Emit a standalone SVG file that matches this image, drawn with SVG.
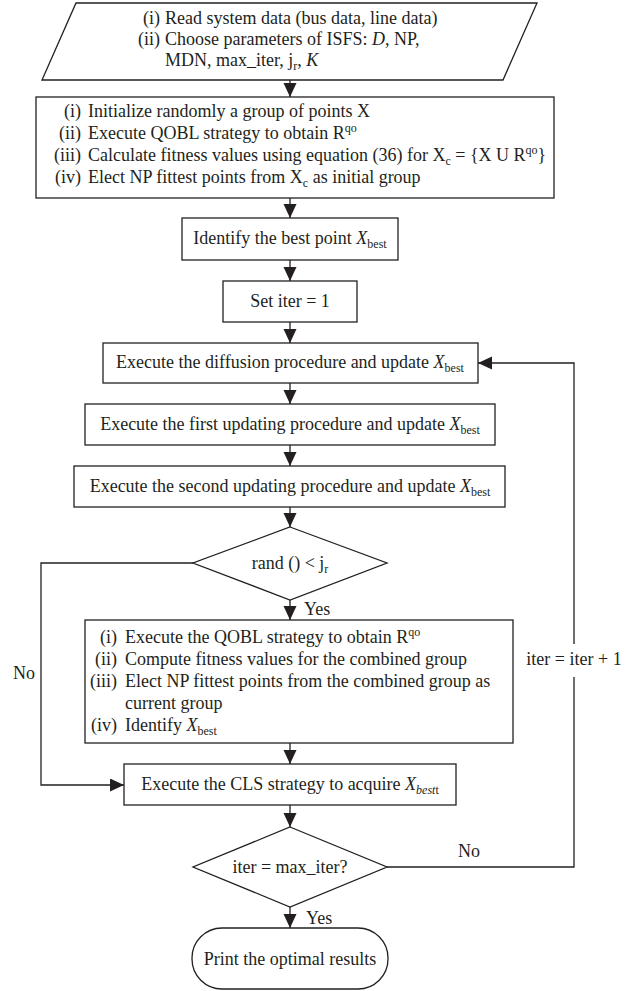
<svg xmlns="http://www.w3.org/2000/svg" width="639" height="991" viewBox="0 0 639 991">
<style>
.t{font-family:"Liberation Serif","Times New Roman",serif;font-size:18px;fill:#231f20}
.m{text-anchor:middle}
.e{text-anchor:end}
.s{font-size:12px}
.i{font-style:italic}
.b{fill:#fff;stroke:#231f20;stroke-width:1.3}
.c{fill:none;stroke:#231f20;stroke-width:1.3}
</style>
<defs>
<marker id="ah" markerUnits="userSpaceOnUse" markerWidth="15" markerHeight="14" refX="14" refY="6.5" orient="auto" viewBox="0 0 15 14">
<path d="M0,0 L14,6.5 L0,13 z" fill="#231f20"/>
</marker>
</defs>
<rect width="639" height="991" fill="#fff"/>
<g id="connectors">
<path class="c" d="M290,80 V97" marker-end="url(#ah)"/>
<path class="c" d="M290,198 V218" marker-end="url(#ah)"/>
<path class="c" d="M290,260 V281" marker-end="url(#ah)"/>
<path class="c" d="M290,322 V343" marker-end="url(#ah)"/>
<path class="c" d="M290,383 V404" marker-end="url(#ah)"/>
<path class="c" d="M290,445 V466" marker-end="url(#ah)"/>
<path class="c" d="M290,507 V527" marker-end="url(#ah)"/>
<path class="c" d="M290,600 V620" marker-end="url(#ah)"/>
<path class="c" d="M290,743 V764" marker-end="url(#ah)"/>
<path class="c" d="M290,805 V827" marker-end="url(#ah)"/>
<path class="c" d="M290,907 V928" marker-end="url(#ah)"/>
<path class="c" d="M193,563 H41 V785 H124" marker-end="url(#ah)"/>
<path class="c" d="M387,867 H574 V677 M574,644 V363 H478" marker-end="url(#ah)"/>
<text class="t" x="304" y="615">Yes</text>
<text class="t" x="306" y="924">Yes</text>
<text class="t" x="13" y="679">No</text>
<text class="t" x="458" y="857">No</text>
<text class="t m" x="574" y="665">iter = iter + 1</text>
</g>
<g id="input">
<polygon class="b" points="76,3 537,3 503,80 42,80"/>
<text class="t e" x="160" y="24">(i)</text>
<text class="t" x="165" y="24">Read system data (bus data, line data)</text>
<text class="t e" x="160" y="45">(ii)</text>
<text class="t" x="165" y="45">Choose parameters of ISFS: <tspan class="i">D</tspan>, NP,</text>
<text class="t" x="165" y="66">MDN, max_iter, j<tspan class="s" dy="4">r</tspan><tspan dy="-4">, </tspan><tspan class="i">K</tspan></text>
</g>
<g id="init">
<rect class="b" x="36" y="97" width="518" height="101"/>
<text class="t e" x="81" y="117">(i)</text>
<text class="t" x="88" y="117">Initialize randomly a group of points X</text>
<text class="t e" x="81" y="139">(ii)</text>
<text class="t" x="88" y="139">Execute QOBL strategy to obtain R<tspan class="s" dy="-7">qo</tspan></text>
<text class="t e" x="81" y="161">(iii)</text>
<text class="t" x="88" y="161">Calculate fitness values using equation (36) for X<tspan class="s" dy="4">c</tspan><tspan dy="-4"> = {X U R</tspan><tspan class="s" dy="-7">qo</tspan><tspan dy="7">}</tspan></text>
<text class="t e" x="81" y="183">(iv)</text>
<text class="t" x="88" y="183">Elect NP fittest points from X<tspan class="s" dy="4">c</tspan><tspan dy="-4"> as initial group</tspan></text>
</g>
<g id="identify">
<rect class="b" x="182" y="218" width="216" height="42"/>
<text class="t m" x="290" y="244">Identify the best point <tspan class="i">X</tspan><tspan class="s" dy="4">best</tspan></text>
</g>
<g id="setiter">
<rect class="b" x="223" y="281" width="134" height="41"/>
<text class="t m" x="290" y="307">Set iter = 1</text>
</g>
<g id="diffusion">
<rect class="b" x="103" y="343" width="375" height="40"/>
<text class="t m" x="290" y="368">Execute the diffusion procedure and update <tspan class="i">X</tspan><tspan class="s" dy="4">best</tspan></text>
</g>
<g id="first">
<rect class="b" x="85" y="404" width="410" height="41"/>
<text class="t m" x="290" y="430">Execute the first updating procedure and update <tspan class="i">X</tspan><tspan class="s" dy="4">best</tspan></text>
</g>
<g id="second">
<rect class="b" x="74" y="466" width="431" height="41"/>
<text class="t m" x="290" y="492">Execute the second updating procedure and update <tspan class="i">X</tspan><tspan class="s" dy="4">best</tspan></text>
</g>
<g id="decision1">
<polygon class="b" points="290,527 387,563 290,600 193,563"/>
<text class="t m" x="290" y="569">rand () &lt; j<tspan class="s" dy="4">r</tspan></text>
</g>
<g id="qobl">
<rect class="b" x="85" y="620" width="428" height="123"/>
<text class="t e" x="117" y="643">(i)</text>
<text class="t" x="125" y="643">Execute the QOBL strategy to obtain R<tspan class="s" dy="-7">qo</tspan></text>
<text class="t e" x="117" y="665">(ii)</text>
<text class="t" x="125" y="665">Compute fitness values for the combined group</text>
<text class="t e" x="117" y="687">(iii)</text>
<text class="t" x="125" y="687">Elect NP fittest points from the combined group as</text>
<text class="t" x="125" y="709">current group</text>
<text class="t e" x="117" y="731">(iv)</text>
<text class="t" x="125" y="731">Identify <tspan class="i">X</tspan><tspan class="s" dy="4">best</tspan></text>
</g>
<g id="cls">
<rect class="b" x="124" y="764" width="332" height="41"/>
<text class="t m" x="290" y="790">Execute the CLS strategy to acquire <tspan class="i">X</tspan><tspan class="s i" dy="4">best</tspan><tspan class="s">t</tspan></text>
</g>
<g id="decision2">
<polygon class="b" points="290,827 387,867 290,907 193,867"/>
<text class="t m" x="290" y="873">iter = max_iter?</text>
</g>
<g id="end">
<rect class="b" x="192" y="928" width="196" height="61" rx="30" ry="30"/>
<text class="t m" x="290" y="965">Print the optimal results</text>
</g>
</svg>
